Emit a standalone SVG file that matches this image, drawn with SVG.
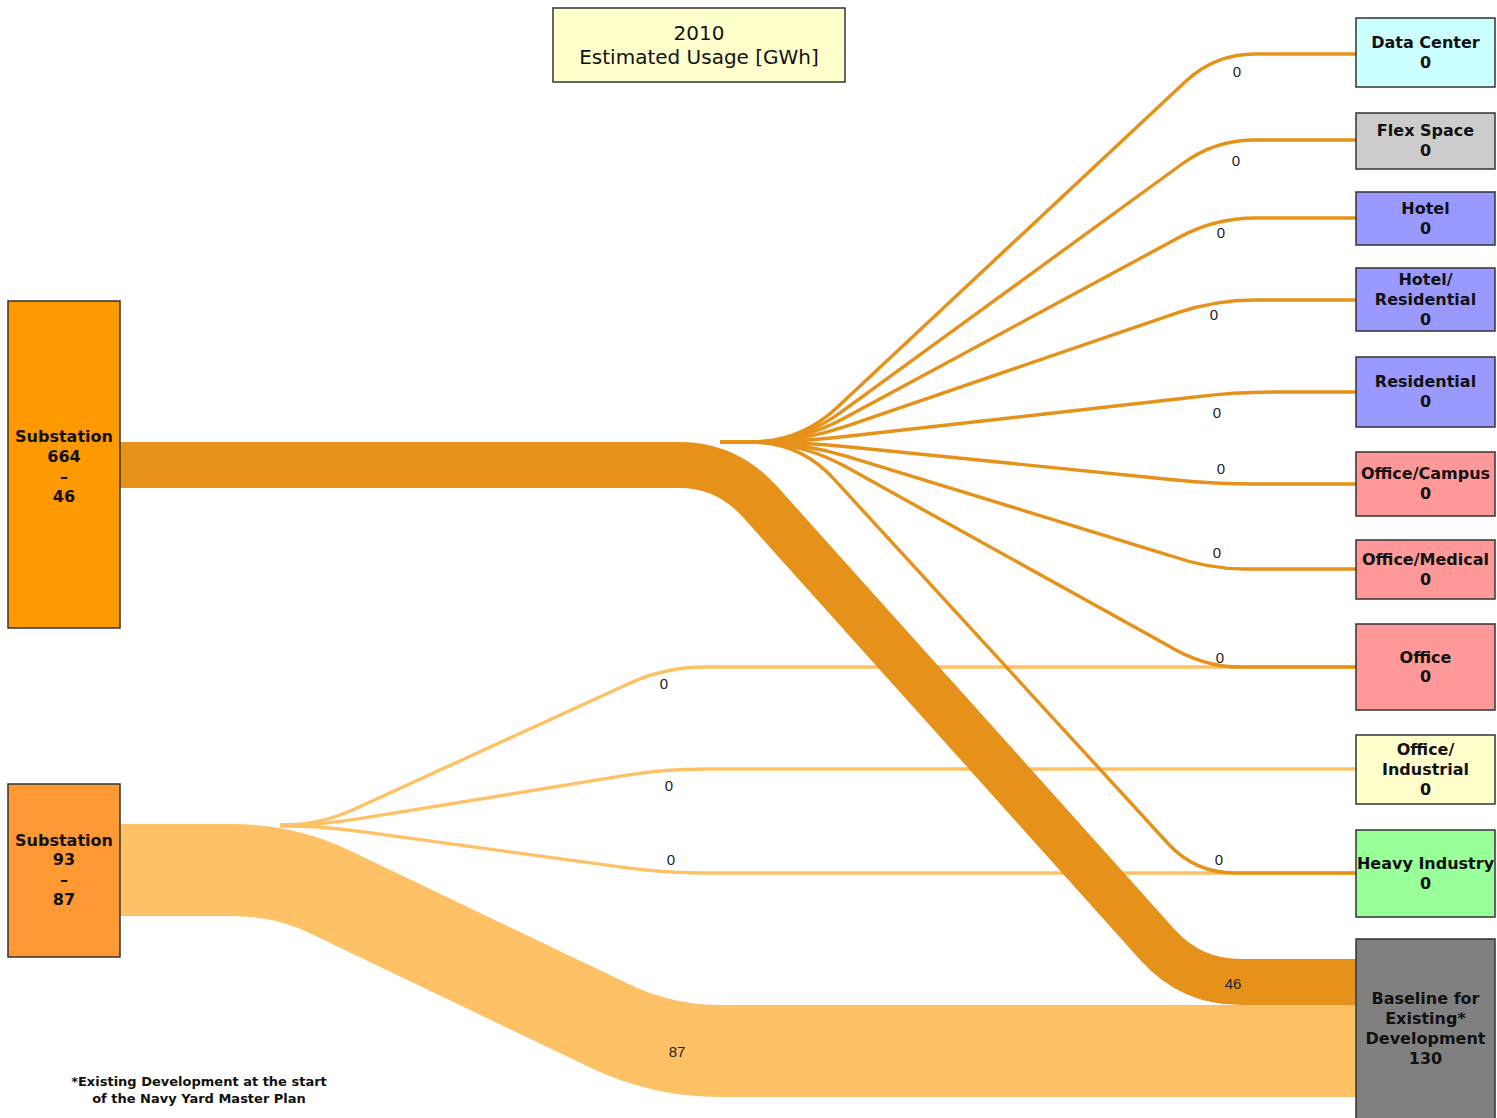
<svg xmlns="http://www.w3.org/2000/svg" width="1497" height="1118" viewBox="0 0 1497 1118">
<style>
.node{stroke:#333;stroke-width:1.5}
.nt{font-family:"DejaVu Sans","Liberation Sans",sans-serif;font-weight:bold;font-size:16px;fill:#111;text-anchor:middle}
.tt{font-family:"DejaVu Sans","Liberation Sans",sans-serif;font-size:20px;fill:#111;text-anchor:middle}
.fn{font-family:"DejaVu Sans","Liberation Sans",sans-serif;font-weight:bold;font-size:13px;fill:#111;text-anchor:middle}
.fl{font-family:"Liberation Sans Narrow","Liberation Sans",Arial,sans-serif;font-size:15px;fill:#222;text-anchor:middle}
.dk{fill:none;stroke:#E6921A}
.lt{fill:none;stroke:#FFC166}
.thin{stroke-width:3.4}
</style>
<rect width="1497" height="1118" fill="#fff"/>
<g id="connectors">
  <path class="lt" stroke-width="92" d="M120,870 H230 Q285,870 330,892 L610,1026 Q662,1051 720,1051 H1356"/>
  <path class="lt thin" d="M280,825 H285 Q320,825 356.4,808.3 L628.6,683.7 Q665,667 705,667 H1356"/>
  <path class="lt thin" d="M280,825 H285 Q320,825 359.5,818.6 L625.5,775.4 Q665,769 705,769 H1356"/>
  <path class="lt thin" d="M280,826 H285 Q320,826 359.6,831.4 L625.4,867.6 Q665,873 705,873 H1356"/>
  <path class="dk" stroke-width="46" d="M120,465 H680 Q727,465 760.4,502.2 L1157.6,944.8 Q1191,982 1241,982 H1356"/>
  <path class="dk thin" d="M720,442 H750 Q800,442 836.5,407.9 L1185.8,81.3 Q1215,54 1255,54 H1356"/>
  <path class="dk thin" d="M720,442 H750 Q800,442 840.4,412.6 L1182.7,163.5 Q1215,140 1255,140 H1356"/>
  <path class="dk thin" d="M720,442 H750 Q800,442 844,418.2 L1179.8,237 Q1215,218 1255,218 H1356"/>
  <path class="dk thin" d="M720,442 H750 Q800,442 847.3,425.8 L1177.2,312.9 Q1215,300 1255,300 H1356"/>
  <path class="dk thin" d="M720,442 H750 Q800,442 849.6,436 L1195,397 Q1235,392 1275,392 H1356"/>
  <path class="dk thin" d="M720,442 H750 Q800,442 849.7,447 L1175.2,480 Q1215,484 1255,484 H1356"/>
  <path class="dk thin" d="M720,442 H750 Q800,442 847.8,456.6 L1170,555.5 Q1208,569 1245,569 H1356"/>
  <path class="dk thin" d="M720,442 H750 Q800,442 844,465.8 L1167,645 Q1203,667 1240,667 H1356"/>
  <path class="dk thin" d="M720,442 H750 Q800,442 833.8,478.9 L1168,843.5 Q1195,873 1235,873 H1356"/>
  <g>
    <text class="fl" x="1237" y="77">0</text>
    <text class="fl" x="1236" y="166">0</text>
    <text class="fl" x="1221" y="238">0</text>
    <text class="fl" x="1214" y="320">0</text>
    <text class="fl" x="1217" y="418">0</text>
    <text class="fl" x="1221" y="474">0</text>
    <text class="fl" x="1217" y="558">0</text>
    <text class="fl" x="1220" y="663">0</text>
    <text class="fl" x="1219" y="865">0</text>
    <text class="fl" x="664" y="689">0</text>
    <text class="fl" x="669" y="791">0</text>
    <text class="fl" x="671" y="865">0</text>
    <text class="fl" x="1233" y="989">46</text>
    <text class="fl" x="677" y="1057">87</text>
  </g>
</g>
<g id="title">
  <rect x="553" y="8" width="292" height="74" fill="#FFFFCC" class="node"/>
  <text class="tt" x="699" y="40">2010</text>
  <text class="tt" x="699" y="64">Estimated Usage [GWh]</text>
</g>
<g id="sub664">
  <rect x="8" y="301" width="112" height="327" fill="#FF9900" class="node"/>
  <text class="nt" x="64" y="442">Substation</text>
  <text class="nt" x="64" y="462">664</text>
  <text class="nt" x="64" y="482">–</text>
  <text class="nt" x="64" y="502">46</text>
</g>
<g id="sub93">
  <rect x="8" y="784" width="112" height="173" fill="#FF9933" class="node"/>
  <text class="nt" x="64" y="846">Substation</text>
  <text class="nt" x="64" y="865">93</text>
  <text class="nt" x="64" y="885">–</text>
  <text class="nt" x="64" y="905">87</text>
</g>
<g id="datacenter">
  <rect x="1356" y="18" width="139" height="69" fill="#CCFFFF" class="node"/>
  <text class="nt" x="1425.5" y="48">Data Center</text>
  <text class="nt" x="1425.5" y="68">0</text>
</g>
<g id="flexspace">
  <rect x="1356" y="113" width="139" height="56" fill="#CCCCCC" class="node"/>
  <text class="nt" x="1425.5" y="136">Flex Space</text>
  <text class="nt" x="1425.5" y="156">0</text>
</g>
<g id="hotel">
  <rect x="1356" y="192" width="139" height="53" fill="#9999FF" class="node"/>
  <text class="nt" x="1425.5" y="214">Hotel</text>
  <text class="nt" x="1425.5" y="234">0</text>
</g>
<g id="hotelres">
  <rect x="1356" y="268" width="139" height="63" fill="#9999FF" class="node"/>
  <text class="nt" x="1425.5" y="285">Hotel/</text>
  <text class="nt" x="1425.5" y="305">Residential</text>
  <text class="nt" x="1425.5" y="325">0</text>
</g>
<g id="residential">
  <rect x="1356" y="357" width="139" height="70" fill="#9999FF" class="node"/>
  <text class="nt" x="1425.5" y="387">Residential</text>
  <text class="nt" x="1425.5" y="407">0</text>
</g>
<g id="officecampus">
  <rect x="1356" y="452" width="139" height="64" fill="#FF9999" class="node"/>
  <text class="nt" x="1425.5" y="479">Office/Campus</text>
  <text class="nt" x="1425.5" y="499">0</text>
</g>
<g id="officemedical">
  <rect x="1356" y="540" width="139" height="59" fill="#FF9999" class="node"/>
  <text class="nt" x="1425.5" y="565">Office/Medical</text>
  <text class="nt" x="1425.5" y="585">0</text>
</g>
<g id="office">
  <rect x="1356" y="624" width="139" height="86" fill="#FF9999" class="node"/>
  <text class="nt" x="1425.5" y="663">Office</text>
  <text class="nt" x="1425.5" y="682">0</text>
</g>
<g id="officeind">
  <rect x="1356" y="735" width="139" height="69" fill="#FFFFCC" class="node"/>
  <text class="nt" x="1425.5" y="755">Office/</text>
  <text class="nt" x="1425.5" y="775">Industrial</text>
  <text class="nt" x="1425.5" y="795">0</text>
</g>
<g id="heavyind">
  <rect x="1356" y="830" width="139" height="87" fill="#99FF99" class="node"/>
  <text class="nt" x="1425.5" y="869">Heavy Industry</text>
  <text class="nt" x="1425.5" y="889">0</text>
</g>
<g id="baseline">
  <rect x="1356" y="939" width="139" height="190" fill="#808080" class="node"/>
  <text class="nt" x="1425.5" y="1004">Baseline for</text>
  <text class="nt" x="1425.5" y="1024">Existing*</text>
  <text class="nt" x="1425.5" y="1044">Development</text>
  <text class="nt" x="1425.5" y="1064">130</text>
</g>
<g id="footnote">
  <text class="fn" x="199" y="1086">*Existing Development at the start</text>
  <text class="fn" x="199" y="1103">of the Navy Yard Master Plan</text>
</g>
</svg>
